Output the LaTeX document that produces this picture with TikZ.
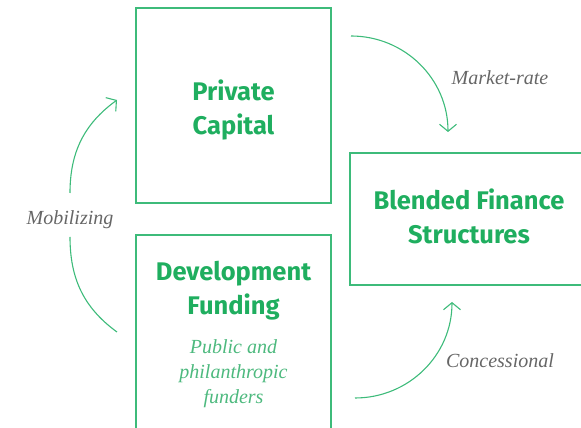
\documentclass[tikz,border=0pt]{standalone}
\usepackage{fontspec}
\usetikzlibrary{arrows.meta}
\newfontfamily\headfont{Fira Sans}
\newfontfamily\labfont{Liberation Serif}
\definecolor{boxgreen}{HTML}{3DBB7A}
\definecolor{txtgreen}{HTML}{1FAE5F}
\definecolor{subgreen}{HTML}{4DB97E}
\definecolor{labgray}{HTML}{666666}
\tikzset{
  box/.style={draw=boxgreen, line width=1.1pt},
  head/.style={text=txtgreen, font=\headfont\bfseries\fontsize{25.5}{34}\selectfont, align=center},
  sub/.style={text=subgreen, font=\labfont\itshape\fontsize{20}{25}\selectfont, align=center},
  lab/.style={text=labgray, font=\labfont\itshape\fontsize{20}{22}\selectfont},
  flow/.style={draw=boxgreen, line width=1.1pt},
  tip/.style={-{Straight Barb[length=7pt,width=17pt,line width=1.1pt]}}
}
\begin{document}
\begin{tikzpicture}[x=1pt,y=1pt]
\useasboundingbox (0,0) rectangle (581,428);
\clip (0,0) rectangle (581,428);
% boxes
\path[box] (136,225) rectangle (331,420);
\path[box] (350,143) rectangle (590,275);
\path[box] (136,-10) rectangle (331,193);
\node (pc) [head] at (233.5,318) {Private\\Capital};
\node (bf) [head] at (469,211.5) {Blended Finance\\Structures};
\node (df) [head] at (233.5,137.5) {Development\\Funding};
\node (dfs) [sub] at (233.5,54) {Public and\\philanthropic\\funders};
% labels
\node (mob) [lab] at (70,208) {Mobilizing};
\node (mkt) [lab] at (500,350) {Market-rate};
\node (con) [lab] at (500,67) {Concessional};
% connector endpoints
\coordinate (a1) at (70,235);
\coordinate (a2) at (117,328);
\coordinate (b1) at (70,191);
\coordinate (b2) at (117,96);
\coordinate (c1) at (351,392);
\coordinate (c2) at (448,296);
\coordinate (d1) at (355,30);
\coordinate (d2) at (452,126);
\draw[flow,tip] (a1) to[out=90,in=-144] (a2);
\draw[flow] (b1) to[out=-90,in=144] (b2);
\draw[flow,tip] (c1) to[out=0,in=90] (c2);
\draw[flow,tip] (d1) to[out=0,in=-90] (d2);
\end{tikzpicture}
\end{document}
